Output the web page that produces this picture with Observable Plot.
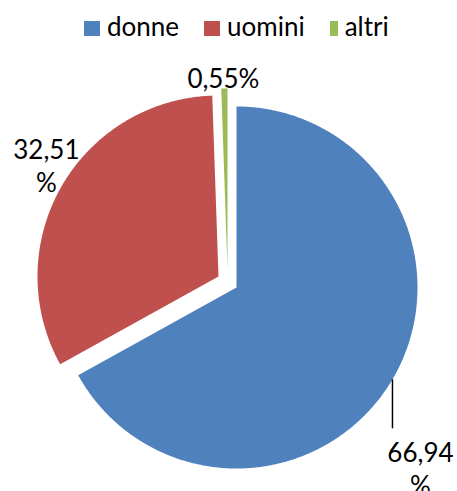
<!DOCTYPE html>
<html><head><meta charset="utf-8">
<script src="https://cdn.jsdelivr.net/npm/d3@7"></script>
<script src="https://cdn.jsdelivr.net/npm/@observablehq/plot@0.6"></script>
<style>
html,body{margin:0;padding:0;background:#fff;}
figure{margin:0;}
#chart figure > div{font-family:Lato,sans-serif;font-size:26px;color:#000;height:58px;box-sizing:border-box;margin:0;padding:11px 0 0 84px;align-items:flex-start;flex-wrap:nowrap;min-height:0;}
#chart figure > div > span{line-height:30px;margin-right:25px;}
#chart figure > div > span > svg{width:16px;height:15px;margin-right:7px;position:relative;top:2px;}
#chart figure > div > span:nth-of-type(3) > svg{width:8px;}
#chart figure > svg{display:block;}
</style></head><body><div id="chart"></div>
<script>
// data
const categories = ["donne", "uomini", "altri"];
const values = [66.94, 32.51, 0.55];
const colors = ["#4F81BD", "#C0504D", "#9BBB59"];

// style
const R = 181;                                   // radius, px
const explode = [[0, 0], [-18, 11], [-9, 18]];   // slice explosion (dx, dy-up), px
const labelOffset = [[28, 59.5], [-14.6, -52], [-1, -23.5]]; // (dx, dy-down), px
const wrapLabel = [true, true, false];

const pie = d3.pie().sort(null).value(d => d)(values);
const step = Math.PI / 360;
const pts = [];
pie.forEach((p, i) => {
  const [ox, oy] = explode[i];
  const name = categories[i];
  pts.push({name, x: ox, y: oy});
  const n = Math.max(2, Math.ceil((p.endAngle - p.startAngle) / step));
  for (let k = 0; k <= n; k++) {
    const a = p.startAngle + (p.endAngle - p.startAngle) * k / n;
    pts.push({name, x: ox + R * Math.sin(a), y: oy + R * Math.cos(a)});
  }
});

const fmt = v => v.toFixed(2).replace(".", ",");
const anchors = pie.map((p, i) => {
  const m = (p.startAngle + p.endAngle) / 2;
  const [ox, oy] = explode[i];
  return {name: categories[i], x: ox + R * Math.sin(m), y: oy + R * Math.cos(m)};
});
const labels = anchors.map((a, i) => ({
  x: a.x + labelOffset[i][0],
  y: a.y - labelOffset[i][1],
  text: fmt(values[i]) + (wrapLabel[i] ? "\n%" : "%")
}));
const leaders = [{x1: anchors[0].x, y1: anchors[0].y, x2: anchors[0].x, y2: anchors[0].y - 49}];

const chart = Plot.plot({
  width: 457,
  height: 433,
  margin: 0,
  x: {domain: [-236, 221], axis: null},
  y: {domain: [-204, 229], axis: null},
  color: {domain: categories, range: colors, legend: true},
  marks: [
    Plot.line(pts, {x: "x", y: "y", z: "name", fill: "name", stroke: "none", curve: "linear"}),
    Plot.link(leaders, {x1: "x1", y1: "y1", x2: "x2", y2: "y2", stroke: "#000", strokeWidth: 1.5}),
    Plot.text(labels, {x: "x", y: "y", text: "text", fontFamily: "Lato", fontSize: 26, fill: "#000",
      textAnchor: "middle", lineAnchor: "top", lineHeight: 1.27})
  ]
});
document.getElementById("chart").appendChild(chart);
</script></body></html>
